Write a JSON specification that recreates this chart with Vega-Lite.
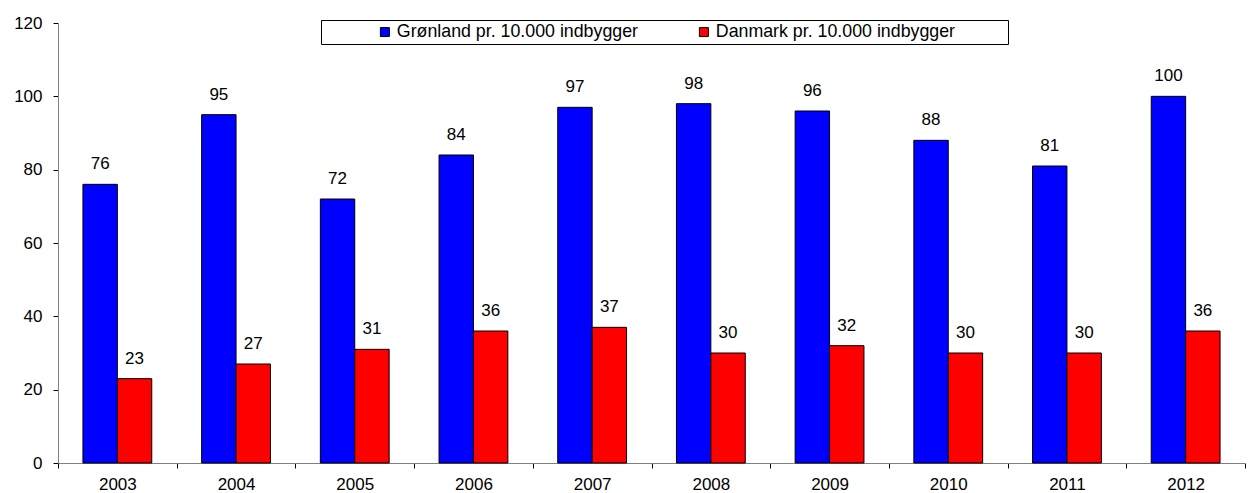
{
  "$schema": "https://vega.github.io/schema/vega-lite/v6.json",
  "width": 1187,
  "height": 440,
  "autosize": {"type": "none"},
  "padding": {"left": 58, "top": 23, "right": 8, "bottom": 30},
  "background": "white",
  "config": {"view": {"stroke": null}, "font": "Liberation Sans"},
  "data": {
    "values": [
      {"year": "2003", "series": "Grønland pr. 10.000 indbygger", "value": 76},
      {"year": "2003", "series": "Danmark pr. 10.000 indbygger", "value": 23},
      {"year": "2004", "series": "Grønland pr. 10.000 indbygger", "value": 95},
      {"year": "2004", "series": "Danmark pr. 10.000 indbygger", "value": 27},
      {"year": "2005", "series": "Grønland pr. 10.000 indbygger", "value": 72},
      {"year": "2005", "series": "Danmark pr. 10.000 indbygger", "value": 31},
      {"year": "2006", "series": "Grønland pr. 10.000 indbygger", "value": 84},
      {"year": "2006", "series": "Danmark pr. 10.000 indbygger", "value": 36},
      {"year": "2007", "series": "Grønland pr. 10.000 indbygger", "value": 97},
      {"year": "2007", "series": "Danmark pr. 10.000 indbygger", "value": 37},
      {"year": "2008", "series": "Grønland pr. 10.000 indbygger", "value": 98},
      {"year": "2008", "series": "Danmark pr. 10.000 indbygger", "value": 30},
      {"year": "2009", "series": "Grønland pr. 10.000 indbygger", "value": 96},
      {"year": "2009", "series": "Danmark pr. 10.000 indbygger", "value": 32},
      {"year": "2010", "series": "Grønland pr. 10.000 indbygger", "value": 88},
      {"year": "2010", "series": "Danmark pr. 10.000 indbygger", "value": 30},
      {"year": "2011", "series": "Grønland pr. 10.000 indbygger", "value": 81},
      {"year": "2011", "series": "Danmark pr. 10.000 indbygger", "value": 30},
      {"year": "2012", "series": "Grønland pr. 10.000 indbygger", "value": 100},
      {"year": "2012", "series": "Danmark pr. 10.000 indbygger", "value": 36}
    ]
  },
  "encoding": {
    "x": {
      "field": "year",
      "type": "nominal",
      "scale": {"paddingInner": 0, "paddingOuter": 0},
      "axis": {
        "title": null,
        "labelAngle": 0,
        "tickBand": "extent",
        "tickSize": 5,
        "labelPadding": 8,
        "labelFontSize": 17,
        "labelColor": "black",
        "domainColor": "#808080",
        "tickColor": "black"
      }
    },
    "xOffset": {
      "field": "series",
      "type": "nominal",
      "sort": ["Grønland pr. 10.000 indbygger", "Danmark pr. 10.000 indbygger"],
      "scale": {"paddingInner": 0, "paddingOuter": 0.725}
    }
  },
  "layer": [
    {
      "mark": {"type": "bar", "stroke": "black", "strokeWidth": 1},
      "encoding": {
        "y": {
          "field": "value",
          "type": "quantitative",
          "scale": {"domain": [0, 120]},
          "axis": {
            "title": null,
            "values": [0, 20, 40, 60, 80, 100, 120],
            "grid": false,
            "tickSize": 5,
            "labelPadding": 11,
            "labelFontSize": 17,
            "labelColor": "black",
            "domainColor": "#808080",
            "tickColor": "black"
          }
        },
        "color": {
          "field": "series",
          "type": "nominal",
          "scale": {
            "domain": ["Grønland pr. 10.000 indbygger", "Danmark pr. 10.000 indbygger"],
            "range": ["#0000FF", "#FF0000"]
          },
          "legend": {
            "orient": "none",
            "legendX": 263,
            "legendY": -3,
            "direction": "horizontal",
            "title": "x",
            "titleOpacity": 0,
            "titleOrient": "right",
            "titlePadding": 44,
            "titleFontSize": 10,
            "strokeColor": "black",
            "fillColor": "white",
            "padding": 3,
            "symbolType": "square",
            "symbolSize": 81,
            "symbolStrokeColor": "black",
            "symbolStrokeWidth": 1,
            "symbolOpacity": 1,
            "labelFontSize": 17.8,
            "labelLimit": 0,
            "labelOffset": 3,
            "labelColor": "black",
            "columnPadding": 5,
            "symbolOffset": 52
          }
        }
      }
    },
    {
      "mark": {"type": "text", "dy": -15, "fontSize": 17, "baseline": "alphabetic", "color": "black"},
      "encoding": {
        "y": {"field": "value", "type": "quantitative"},
        "text": {"field": "value", "type": "quantitative"}
      }
    }
  ]
}
